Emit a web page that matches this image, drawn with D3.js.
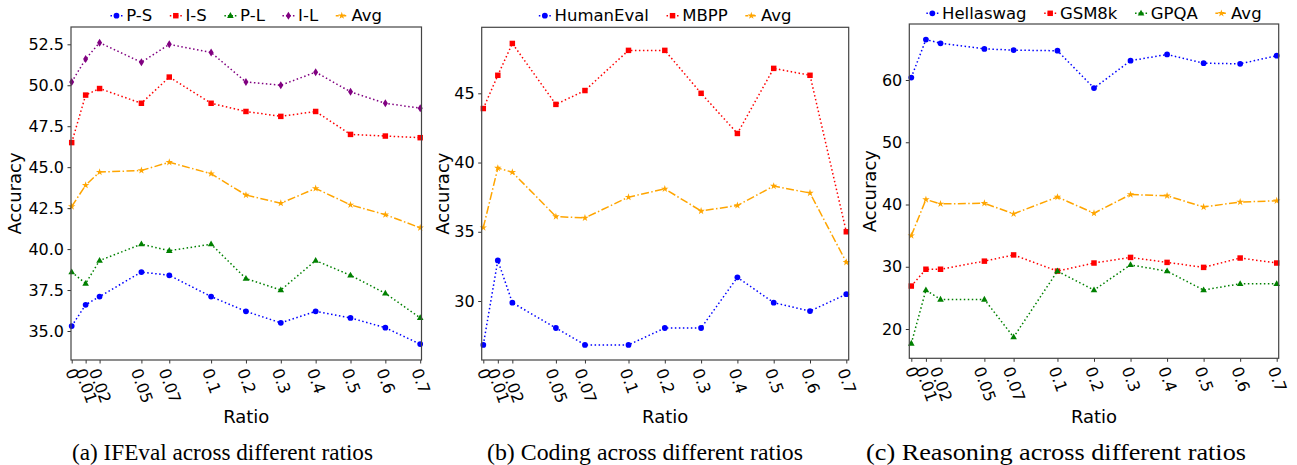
<!DOCTYPE html>
<html><head><meta charset="utf-8">
<script src="https://cdn.jsdelivr.net/npm/d3@7/dist/d3.min.js"></script>
<style>body{margin:0;background:#fff}svg{display:block}</style>
</head><body>
<svg id="chart" width="1297" height="465"></svg>
<script>
// ---------- DATA ----------
const ratios = [0, 0.01, 0.02, 0.05, 0.07, 0.1, 0.2, 0.3, 0.4, 0.5, 0.6, 0.7];
const ratioLabels = ["0", "0.01", "0.02", "0.05", "0.07", "0.1", "0.2", "0.3", "0.4", "0.5", "0.6", "0.7"];

// (a) IFEval
const ifevalPS = [35.3, 36.6, 37.1, 38.6, 38.4, 37.1, 36.2, 35.5, 36.2, 35.8, 35.2, 34.2];
const ifevalIS = [46.5, 49.4, 49.8, 48.9, 50.5, 48.9, 48.4, 48.1, 48.4, 47.0, 46.9, 46.8];
const ifevalPL = [38.6, 37.9, 39.3, 40.3, 39.9, 40.3, 38.2, 37.5, 39.3, 38.4, 37.3, 35.8];
const ifevalIL = [50.2, 51.6, 52.6, 51.4, 52.5, 52.0, 50.2, 50.0, 50.8, 49.6, 48.9, 48.6];
const ifevalAvg = [42.6, 43.9, 44.7, 44.8, 45.3, 44.6, 43.3, 42.8, 43.7, 42.7, 42.1, 41.3];
const ifevalTicks = [35.0, 37.5, 40.0, 42.5, 45.0, 47.5, 50.0, 52.5];

// (b) Coding
const humanEval = [26.83, 32.93, 29.88, 28.05, 26.83, 26.83, 28.05, 28.05, 31.71, 29.88, 29.27, 30.49];
const mbpp = [43.9, 46.3, 48.6, 44.2, 45.2, 48.1, 48.1, 45.0, 42.1, 46.8, 46.3, 35.0];
const codingAvg = [35.3, 39.6, 39.3, 36.1, 36.0, 37.5, 38.1, 36.5, 36.9, 38.3, 37.8, 32.8];
const codingTicks = [30, 35, 40, 45];

// (c) Reasoning
const hellaswag = [60.4, 66.5, 65.9, 65.0, 64.8, 64.7, 58.7, 63.1, 64.1, 62.7, 62.6, 63.9];
const gsm8k = [26.9, 29.6, 29.6, 30.9, 31.9, 29.3, 30.6, 31.5, 30.7, 29.9, 31.4, 30.6];
const gpqa = [17.68, 26.26, 24.75, 24.75, 18.69, 29.29, 26.26, 30.30, 29.29, 26.26, 27.27, 27.27];
const reasoningAvg = [35.0, 40.8, 40.1, 40.2, 38.5, 41.2, 38.6, 41.6, 41.4, 39.6, 40.4, 40.6];
const reasoningTicks = [20, 30, 40, 50, 60];

const captions = ["(a) IFEval across different ratios", "(b) Coding across different ratios", "(c) Reasoning across different ratios"];

// ---------- STYLE / LAYOUT ----------
const COL = {blue: "#0000ff", red: "#ff0000", green: "#008000", purple: "#800080", orange: "#ffa500"};
const DOT = "1.5,2.5", DASHDOT = "8,2.4,1.5,2.4";

const panels = [
  {
    frame: {l: 71, r: 421.5, t: 27, b: 360}, xr: [71.7, 420.2],
    yAnchor: {d: [35, 52.5], r: [331, 44.3]}, ticks: ifevalTicks, fmt: d3.format(".1f"),
    legendY: 15.7, ylabelX: 15, caption: {x: 72, y: 460, w: 301},
    series: [
      {name: "P-S", v: ifevalPS, c: COL.blue, m: "circle", dash: DOT},
      {name: "I-S", v: ifevalIS, c: COL.red, m: "square", dash: DOT},
      {name: "P-L", v: ifevalPL, c: COL.green, m: "triangle", dash: DOT},
      {name: "I-L", v: ifevalIL, c: COL.purple, m: "diamond", dash: DOT},
      {name: "Avg", v: ifevalAvg, c: COL.orange, m: "star", dash: DASHDOT}
    ]
  },
  {
    frame: {l: 481.7, r: 848.7, t: 27.3, b: 360}, xr: [483.3, 846.3],
    yAnchor: {d: [30, 45], r: [301, 93.3]}, ticks: codingTicks, fmt: d3.format("d"),
    legendY: 15.7, ylabelX: 442.7, caption: {x: 487, y: 460, w: 316},
    series: [
      {name: "HumanEval", v: humanEval, c: COL.blue, m: "circle", dash: DOT},
      {name: "MBPP", v: mbpp, c: COL.red, m: "square", dash: DOT},
      {name: "Avg", v: codingAvg, c: COL.orange, m: "star", dash: DASHDOT}
    ]
  },
  {
    frame: {l: 909.3, r: 1278.7, t: 24, b: 358.3}, xr: [911.3, 1276.7],
    yAnchor: {d: [20, 60], r: [329, 80]}, ticks: reasoningTicks, fmt: d3.format("d"),
    legendY: 13.3, ylabelX: 870, caption: {x: 866, y: 460, w: 380},
    series: [
      {name: "Hellaswag", v: hellaswag, c: COL.blue, m: "circle", dash: DOT},
      {name: "GSM8k", v: gsm8k, c: COL.red, m: "square", dash: DOT},
      {name: "GPQA", v: gpqa, c: COL.green, m: "triangle", dash: DOT},
      {name: "Avg", v: reasoningAvg, c: COL.orange, m: "star", dash: DASHDOT}
    ]
  }
];

const FONT = "DejaVu Sans, Verdana, sans-serif";
const svg = d3.select("#chart");

function markerPath(type) {
  switch (type) {
    case "circle": return d3.symbol(d3.symbolCircle, 26)();
    case "square": return d3.symbol(d3.symbolSquare, 30)();
    case "triangle": return "M0,-3.6L3.3,2.2L-3.3,2.2Z";
    case "diamond": return "M0,-4L2.5,0L0,4L-2.5,0Z";
    case "star": return d3.symbol(d3.symbolStar, 17)();
  }
}

panels.forEach((p, pi) => {
  const g = svg.append("g");
  const f = p.frame;
  const x = d3.scaleLinear().domain([0, 0.1, 0.7])
    .range([p.xr[0], p.xr[0] + 0.4 * (p.xr[1] - p.xr[0]), p.xr[1]]);
  const y = d3.scaleLinear().domain(p.yAnchor.d).range(p.yAnchor.r);

  const plot = g.append("g");
  p.series.forEach(s => {
    const pts = ratios.map((r, i) => [r, s.v[i]]);
    plot.append("path").datum(pts)
      .attr("d", d3.line().x(d => x(d[0])).y(d => y(d[1])))
      .attr("fill", "none").attr("stroke", s.c).attr("stroke-width", 1.5)
      .attr("stroke-dasharray", s.dash);
    plot.selectAll(null).data(pts).enter().append("path")
      .attr("d", markerPath(s.m))
      .attr("transform", d => `translate(${x(d[0])},${y(d[1])})`)
      .attr("fill", s.c);
  });

  // y axis
  const yAxis = d3.axisLeft(y).tickValues(p.ticks).tickFormat(p.fmt).tickSize(3.5).tickPadding(3.5);
  const ya = g.append("g").attr("transform", `translate(${f.l},0)`).call(yAxis);
  ya.select(".domain").remove();
  ya.selectAll("text").attr("font-family", FONT).attr("font-size", 16).attr("fill", "#000");
  ya.selectAll("line").attr("stroke", "#000").attr("stroke-width", 0.8);

  // x axis
  const xAxis = d3.axisBottom(x).tickValues(ratios).tickFormat((d, i) => ratioLabels[i]).tickSize(3.5).tickPadding(3.5);
  const xa = g.append("g").attr("transform", `translate(0,${f.b})`).call(xAxis);
  xa.select(".domain").remove();
  xa.selectAll("line").attr("stroke", "#000").attr("stroke-width", 0.8);
  xa.selectAll("text").each(function() {
    const t = d3.select(this);
    t.attr("font-family", FONT).attr("font-size", 16).attr("fill", "#000");
    const len = this.getComputedTextLength();
    const h = 12;
    const th = 70 * Math.PI / 180;
    const bh = len * Math.sin(th) + h * Math.cos(th);
    const cy = 7 + bh / 2;
    t.attr("y", null).attr("dy", null)
      .attr("text-anchor", "middle").attr("dominant-baseline", "central")
      .attr("transform", `translate(0,${cy}) rotate(70)`);
  });

  // frame
  g.append("rect").attr("x", f.l).attr("y", f.t).attr("width", f.r - f.l).attr("height", f.b - f.t)
    .attr("fill", "none").attr("stroke", "#444").attr("stroke-width", 1.2);

  // axis labels
  g.append("text").attr("x", (f.l + f.r) / 2).attr("y", 417).attr("dy", "0.35em")
    .attr("text-anchor", "middle").attr("font-family", FONT).attr("font-size", 18).text("Ratio");
  g.append("text").attr("transform", `translate(${p.ylabelX},${(f.t + f.b) / 2}) rotate(-90)`)
    .attr("dy", "0.35em").attr("text-anchor", "middle").attr("font-family", FONT).attr("font-size", 18).text("Accuracy");

  // legend
  const lg = g.append("g");
  const handle = 12, pad = 3.7, colsp = 17.6;
  let cx = 0;
  const items = [];
  p.series.forEach(s => {
    const it = lg.append("g");
    it.append("line").attr("x1", 0).attr("x2", handle).attr("y1", 0).attr("y2", 0)
      .attr("stroke", s.c).attr("stroke-width", 1.5).attr("stroke-dasharray", s.dash === DOT ? "1.5,2" : "3,1.5,1.5,1.5");
    it.append("path").attr("d", markerPath(s.m)).attr("transform", `translate(${handle / 2},0)`).attr("fill", s.c);
    const tx = it.append("text").attr("x", handle + pad).attr("dy", "0.35em")
      .attr("font-family", FONT).attr("font-size", 16.5).text(s.name);
    const w = tx.node().getComputedTextLength();
    items.push({it, w});
  });
  items.forEach((d, i) => {
    d.it.attr("transform", `translate(${cx},0)`);
    cx += handle + pad + d.w + (i < items.length - 1 ? colsp : 0);
  });
  lg.attr("transform", `translate(${(f.l + f.r) / 2 - cx / 2},${p.legendY})`);

  // caption
  svg.append("text").attr("x", p.caption.x).attr("y", p.caption.y)
    .attr("font-family", "Liberation Serif, Times New Roman, serif").attr("font-size", 23)
    .attr("textLength", p.caption.w).attr("lengthAdjust", "spacingAndGlyphs")
    .text(captions[pi]);
});
</script>
</body></html>
